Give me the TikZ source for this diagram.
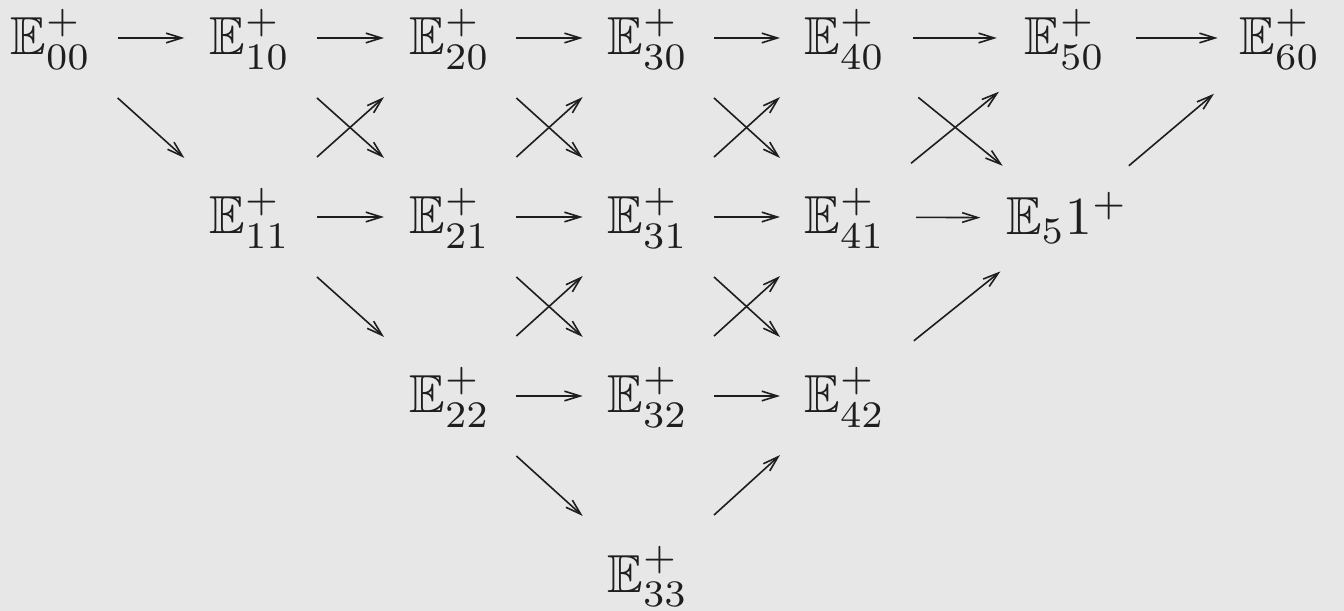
\documentclass[tikz,border=0pt]{standalone}
\usepackage{amssymb}
\usetikzlibrary{calc,arrows.meta}
\definecolor{bg}{RGB}{231,231,231}
\definecolor{ink}{RGB}{30,30,30}
\tikzset{
  obj/.style={inner sep=0pt, anchor=base, text=ink},
  ar/.style={-{Straight Barb[length=2.9pt,width=1.8pt,line width=0.3pt]}, line width=0.3pt, draw=ink},
}
\newcommand\arrx[4]{\draw[ar] ($(#1.base)!#3!(#2.base)+(0,-17)$) -- ($(#1.base)!#4!(#2.base)+(0,-17)$);}
\newcommand\arr[2]{\arrx{#1}{#2}{0.335}{0.67}}
\begin{document}
\begin{tikzpicture}[x=0.1869pt,y=-0.1869pt]
\fill[bg] (0,0) rectangle (1344,611);
\useasboundingbox (0,0) rectangle (1344,611);
% row 0
\node[obj] (e00) at (51,55) {$\mathbb{E}_{00}^+$};
\node[obj] (e10) at (250,55) {$\mathbb{E}_{10}^+$};
\node[obj] (e20) at (450,55) {$\mathbb{E}_{20}^+$};
\node[obj] (e30) at (648,55) {$\mathbb{E}_{30}^+$};
\node[obj] (e40) at (845,55) {$\mathbb{E}_{40}^+$};
\node[obj] (e50) at (1065,55) {$\mathbb{E}_{50}^+$};
\node[obj] (e60) at (1280,55) {$\mathbb{E}_{60}^+$};
% row 1
\node[obj] (e11) at (250,234) {$\mathbb{E}_{11}^+$};
\node[obj] (e21) at (450,234) {$\mathbb{E}_{21}^+$};
\node[obj] (e31) at (648,234) {$\mathbb{E}_{31}^+$};
\node[obj] (e41) at (845,234) {$\mathbb{E}_{41}^+$};
\node[obj] (e51) at (1067,235) {$\mathbb{E}_5 1^+$};
% row 2
\node[obj] (e22) at (450,413) {$\mathbb{E}_{22}^+$};
\node[obj] (e32) at (648,413) {$\mathbb{E}_{32}^+$};
\node[obj] (e42) at (845,413) {$\mathbb{E}_{42}^+$};
% row 3
\node[obj] (e33) at (648,592) {$\mathbb{E}_{33}^+$};
% horizontal
\arr{e00}{e10}\arr{e10}{e20}\arr{e20}{e30}\arr{e30}{e40}\arrx{e40}{e50}{0.31}{0.69}\arrx{e50}{e60}{0.33}{0.71}
\arr{e11}{e21}\arr{e21}{e31}\arr{e31}{e41}\arrx{e41}{e51}{0.32}{0.61}
\arr{e22}{e32}\arr{e32}{e42}
% diagonals row 0-1
\arr{e00}{e11}\arr{e10}{e21}\arr{e20}{e31}\arr{e30}{e41}\arrx{e40}{e51}{0.33}{0.71}
\arr{e11}{e20}\arr{e21}{e30}\arr{e31}{e40}\arrx{e41}{e50}{0.3}{0.7}\arrx{e51}{e60}{0.29}{0.69}
% diagonals row 1-2
\arr{e11}{e22}\arr{e21}{e32}\arr{e31}{e42}
\arr{e22}{e31}\arr{e32}{e41}\arrx{e42}{e51}{0.31}{0.7}
% diagonals row 2-3
\arr{e22}{e33}\arr{e33}{e42}
\end{tikzpicture}
\end{document}
